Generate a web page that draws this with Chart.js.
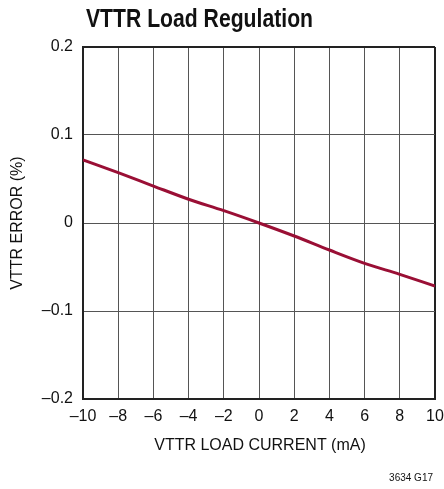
<!DOCTYPE html>
<html>
<head>
<meta charset="utf-8">
<script src="https://cdn.jsdelivr.net/npm/chart.js@4"></script>
<style>
html,body{margin:0;padding:0;background:#fff;}
#wrap{width:444px;height:489px;position:relative;}
</style>
</head>
<body>
<div id="wrap"><canvas id="c" width="444" height="489"></canvas></div>
<script>
const titleText = "VTTR Load Regulation";
const xTitle = "VTTR LOAD CURRENT (mA)";
const yTitle = "VTTR ERROR (%)";
const footnote = "3634 G17";
const currents = [-10, -8, -6, -4, -2, 0, 2, 4, 6, 8, 10];
const errors = [0.0716, 0.0572, 0.042, 0.027, 0.014, 0.0, -0.0148, -0.0307, -0.0458, -0.0583, -0.0716];
const xTicks = [-10, -8, -6, -4, -2, 0, 2, 4, 6, 8, 10];
const yTicks = [-0.2, -0.1, 0, 0.1, 0.2];

const FONT = "'Liberation Sans Narrow', 'Liberation Sans', Arial, sans-serif";
const fmt = v => (v < 0 ? "\u2013" : "") + String(Math.abs(Math.round(v * 10) / 10));

const textPlugin = {
  id: 'texts',
  afterDraw(chart) {
    const ctx = chart.ctx;
    const a = chart.chartArea;
    ctx.save();
    ctx.fillStyle = '#111';
    ctx.font = "bold 25px " + FONT;
    ctx.textAlign = 'left';
    ctx.textBaseline = 'alphabetic';
    const w = ctx.measureText(titleText).width;
    ctx.save();
    ctx.translate(86, 27);
    ctx.scale(227 / w, 1);
    ctx.fillText(titleText, 0, 0);
    ctx.restore();
    ctx.font = "16px " + FONT;
    ctx.textAlign = 'center';
    ctx.textBaseline = 'middle';
    ctx.fillText(xTitle, 260, 446);
    ctx.save();
    ctx.translate(18, (a.top + a.bottom) / 2);
    ctx.rotate(-Math.PI / 2);
    ctx.fillText(yTitle, 0, 0);
    ctx.restore();
    ctx.font = "10px " + FONT;
    ctx.textAlign = 'right';
    ctx.fillText(footnote, 433, 478);
    ctx.restore();
  }
};

new Chart(document.getElementById('c'), {
  type: 'scatter',
  data: {
    datasets: [{
      data: currents.map((x, i) => ({x: x, y: errors[i]})),
      showLine: true,
      borderColor: '#9a0f35',
      borderWidth: 3,
      pointRadius: 0,
      cubicInterpolationMode: 'monotone',
      fill: false
    }]
  },
  options: {
    responsive: false,
    animation: false,
    devicePixelRatio: 1,
    layout: {padding: {top: 47, right: 9, left: 0, bottom: 0}},
    plugins: {legend: {display: false}, tooltip: {enabled: false}},
    scales: {
      x: {
        type: 'linear', min: -10, max: 10,
        afterBuildTicks: s => { s.ticks = xTicks.map(v => ({value: v})); },
        afterFit: s => { s.height = 90; s.paddingLeft = 0; s.paddingRight = 0; },
        grid: {
          color: ctx => (ctx.tick && Math.abs(ctx.tick.value) === 10) ? '#222' : '#555',
          lineWidth: ctx => (ctx.tick && Math.abs(ctx.tick.value) === 10) ? 2 : 1,
          drawTicks: false
        },
        border: {display: true, color: '#222', width: 2},
        ticks: {
          font: {family: FONT, size: 16}, color: '#111', padding: 8,
          maxRotation: 0, autoSkip: false,
          callback: v => fmt(v)
        }
      },
      y: {
        type: 'linear', min: -0.2, max: 0.2,
        afterBuildTicks: s => { s.ticks = yTicks.map(v => ({value: v})); },
        afterFit: s => { s.width = 83; s.paddingTop = 0; s.paddingBottom = 0; },
        grid: {
          color: ctx => (ctx.tick && Math.abs(ctx.tick.value) > 0.19) ? '#222' : '#555',
          lineWidth: ctx => (ctx.tick && Math.abs(ctx.tick.value) > 0.19) ? 2 : 1,
          drawTicks: false
        },
        border: {display: true, color: '#222', width: 2},
        ticks: {
          font: {family: FONT, size: 16}, color: '#111', padding: 10,
          callback: v => fmt(v)
        }
      }
    }
  },
  plugins: [textPlugin]
});
</script>
</body>
</html>
